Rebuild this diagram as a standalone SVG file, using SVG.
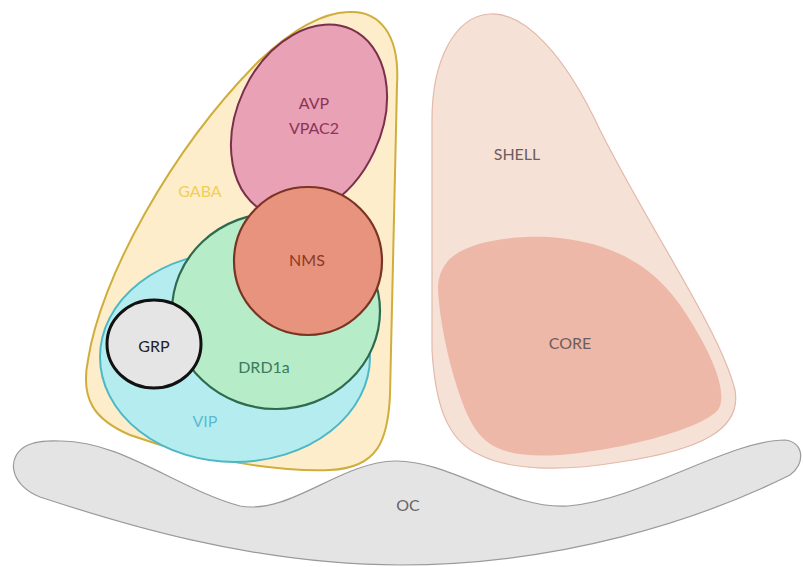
<svg xmlns="http://www.w3.org/2000/svg" width="803" height="567" viewBox="0 0 803 567">
<style>
text{font-family:Lato,"Open Sans","Liberation Sans",sans-serif;font-size:16px;text-anchor:middle}
</style>
<rect width="803" height="567" fill="#fff"/>
<g id="oc">
<path d="M 60 441 C 120 440, 180 490, 240 506 C 290 515, 340 462, 395 461 C 450 460, 510 510, 568 506 C 640 500, 730 440, 785 440 C 805 442, 805 465, 790 475 C 700 520, 560 565, 400 565 C 250 565, 110 520, 40 497 C 8 484, 6 455, 28 445 C 40 440, 50 441, 60 441 Z" fill="#e4e4e4" stroke="#9a9a9a" stroke-width="1.2"/>
<text x="408" y="511" fill="#666">OC</text>
</g>
<g id="shell">
<path d="M 490 14 C 525 12, 565 55, 600 130 C 650 230, 720 330, 735 390 C 742 430, 700 450, 620 462 C 560 472, 510 470, 480 455 C 445 440, 435 400, 432 350 L 432 120 C 432 60, 455 16, 490 14 Z" fill="#f6e1d7" stroke="#e2b9aa" stroke-width="1.2"/>
<text x="517" y="160" fill="#6e5d5d">SHELL</text>
</g>
<g id="core">
<path d="M 445 265 C 460 240, 520 234, 560 238 C 620 245, 660 270, 690 320 C 715 360, 728 395, 718 410 C 700 430, 620 450, 560 455 C 510 458, 485 450, 470 420 C 455 390, 440 330, 438 290 C 438 280, 440 272, 445 265 Z" fill="#edb8a7"/>
<text x="570" y="349" fill="#6e5d5d">CORE</text>
</g>
<g id="gaba">
<path d="M 348 12 C 380 10, 400 35, 397 85 L 390 395 C 388 440, 378 468, 330 470 C 280 472, 200 460, 130 435 C 95 420, 80 400, 88 360 C 100 280, 170 150, 260 60 C 290 32, 320 13, 348 12 Z" fill="#fdedca" stroke="#cfae3c" stroke-width="2"/>
<text x="200" y="197" fill="#f3cd55">GABA</text>
</g>
<g id="avp">
<ellipse cx="309" cy="121" rx="72" ry="101" transform="rotate(25 309 121)" fill="#e9a1b5" stroke="#7a2f4b" stroke-width="2"/>
<text x="314" y="109" fill="#8c3457">AVP</text>
<text x="314" y="134" fill="#8c3457">VPAC2</text>
</g>
<g id="vip">
<ellipse cx="235" cy="357" rx="135" ry="105" fill="#b4ecef" stroke="#4cb8c5" stroke-width="2"/>
<text x="205" y="427" fill="#5bbbd2">VIP</text>
</g>
<g id="drd1a">
<ellipse cx="276" cy="311" rx="104" ry="98" fill="#b6ecc7" stroke="#2d6a4e" stroke-width="2.2"/>
<text x="264" y="373" fill="#3c7a5b">DRD1a</text>
</g>
<g id="nms">
<circle cx="308" cy="261" r="74" fill="#e8937d" stroke="#7a3424" stroke-width="2.2"/>
<text x="307" y="266" fill="#8b3a28">NMS</text>
</g>
<g id="grp">
<ellipse cx="154" cy="344" rx="47" ry="44" fill="#e5e5e5" stroke="#111" stroke-width="3"/>
<text x="154" y="352" fill="#222">GRP</text>
</g>
<g id="connectors"/>
</svg>
